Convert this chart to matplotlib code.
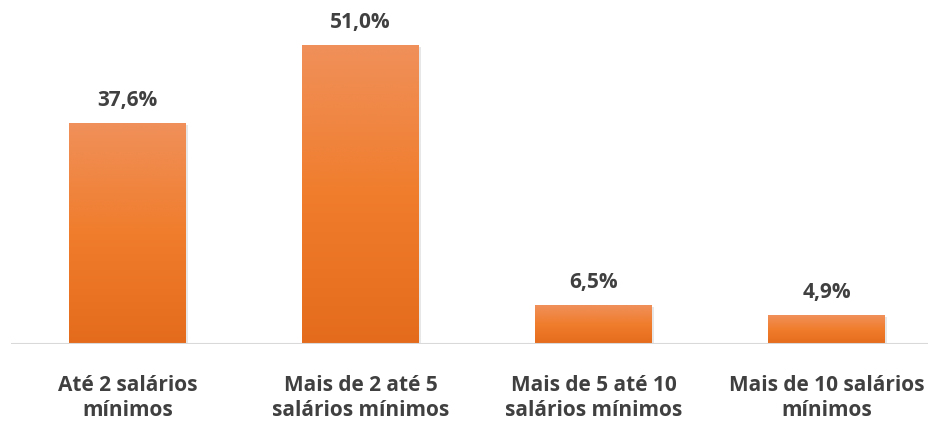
import numpy as np
import matplotlib
matplotlib.use('Agg')
import matplotlib.pyplot as plt
from matplotlib.colors import LinearSegmentedColormap

# ── Data ──────────────────────────────────────────────────────────────────────
categories = ['Até 2 salários\nmínimos', 'Mais de 2 até 5\nsalários mínimos',
              'Mais de 5 até 10\nsalários mínimos', 'Mais de 10 salários\nmínimos']
values = [37.6, 51.0, 6.5, 4.9]
value_labels = ['37,6%', '51,0%', '6,5%', '4,9%']

TEXT = '#404040'
plt.rcParams['font.family'] = ['Open Sans', 'DejaVu Sans']

W, H = 929, 424
fig = plt.figure(figsize=(W / 100, H / 100), dpi=100)
# axes: left edge at px 11, baseline at px 344, runs off right edge
ax = fig.add_axes([11 / W, (H - 344) / H, 918 / W, 344 / H])
ax.axis('off')

# gradient orange fill (light at top, darker at bottom)
cmap = LinearSegmentedColormap.from_list('org', ['#E46B1C', '#F07D2C', '#F0905A'])
grad = np.linspace(0, 1, 256).reshape(-1, 1)

x = np.arange(len(values))
bw = 0.502
for xi, v, lab in zip(x, values, value_labels):
    # faint shadow on the right
    ax.add_patch(plt.Rectangle((xi - bw / 2 + 0.008, 0), bw, v - 0.25,
                               color='#bbbbbb', alpha=0.35, lw=0, zorder=1))
    ax.imshow(grad, extent=(xi - bw / 2, xi + bw / 2, 0, v), origin='lower',
              cmap=cmap, aspect='auto', zorder=2, interpolation='bicubic')
    ax.annotate(lab, xy=(xi, v), xytext=(0, 16.5), textcoords='offset points',
                ha='center', va='center', fontsize=15, fontweight='bold', color=TEXT)

ax.set_xlim(-0.5, -0.5 + 918 / 233)
ax.set_ylim(0, 344 / 5.86)

# baseline
ax.axhline(0, color='#D9D9D9', lw=1.5, zorder=3)

# category labels below the baseline
for xi, cat in zip(x, categories):
    ax.annotate(cat, xy=(xi, 0), xytext=(0, -39), textcoords='offset points',
                ha='center', va='center', fontsize=15, fontweight='bold',
                color=TEXT, linespacing=1.28, annotation_clip=False)

plt.savefig('out.png', dpi=100, facecolor='white')
